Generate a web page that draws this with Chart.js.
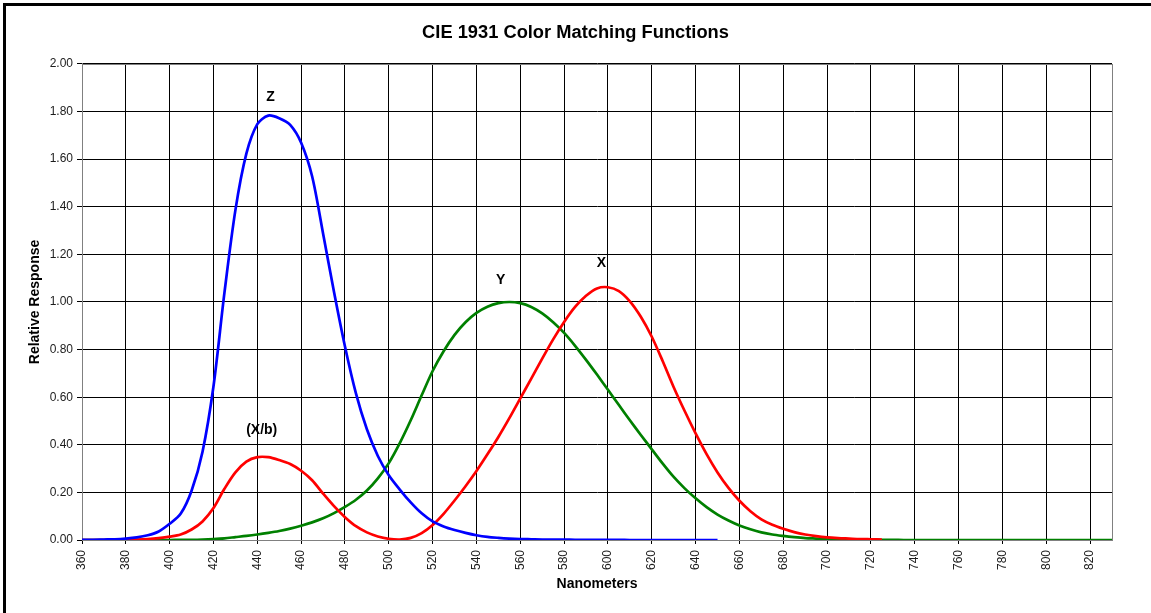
<!DOCTYPE html>
<html>
<head>
<meta charset="utf-8">
<script src="https://cdn.jsdelivr.net/npm/chart.js@4"></script>
<style>
  body { margin: 0; background: #fff; }
  #wrap { position: relative; width: 1151px; height: 613px; }
  #frame { position: absolute; left: 3px; top: 3px; width: 1200px; height: 700px;
           border-top: 3px solid #000; border-left: 3px solid #000; pointer-events: none; }
</style>
</head>
<body>
<div id="wrap">
  <canvas id="cmf" width="1151" height="613"></canvas>
  <div id="frame"></div>
</div>
<script>
// wavelengths in nm, 5 nm steps
const wavelengths = [
  360, 365, 370, 375, 380, 385, 390, 395, 400, 405, 410, 415, 420, 425, 430, 435,
  440, 445, 450, 455, 460, 465, 470, 475, 480, 485, 490, 495, 500, 505, 510, 515,
  520, 525, 530, 535, 540, 545, 550, 555, 560, 565, 570, 575, 580, 585, 590, 595,
  600, 605, 610, 615, 620, 625, 630, 635, 640, 645, 650, 655, 660, 665, 670, 675,
  680, 685, 690, 695, 700, 705, 710, 715, 720, 725, 730, 735, 740, 745, 750, 755,
  760, 765, 770, 775, 780, 785, 790, 795, 800, 805, 810, 815, 820, 825, 830
];

// X curve (red), 360..725
const xValues = [
  0.000, 0.000, 0.000, 0.001, 0.001, 0.002, 0.004, 0.008, 0.014, 0.023, 0.044, 0.078,
  0.134, 0.215, 0.284, 0.329, 0.348, 0.348, 0.336, 0.319, 0.291, 0.251, 0.195, 0.142,
  0.096, 0.058, 0.032, 0.015, 0.005, 0.002, 0.009, 0.029, 0.063, 0.110, 0.166, 0.226,
  0.290, 0.360, 0.433, 0.512, 0.595, 0.678, 0.762, 0.843, 0.916, 0.979, 1.026, 1.057,
  1.062, 1.046, 1.003, 0.938, 0.854, 0.751, 0.642, 0.542, 0.448, 0.361, 0.284, 0.219,
  0.165, 0.121, 0.087, 0.064, 0.047, 0.033, 0.023, 0.016, 0.011, 0.008, 0.006, 0.004,
  0.003, 0.002
];

// Y curve (green), 360..830
const yValues = [
  0.000, 0.000, 0.000, 0.000, 0.000, 0.000, 0.000, 0.000, 0.000, 0.001, 0.001, 0.002,
  0.004, 0.007, 0.012, 0.017, 0.023, 0.030, 0.038, 0.048, 0.060, 0.074, 0.091, 0.113,
  0.139, 0.169, 0.208, 0.259, 0.323, 0.407, 0.503, 0.608, 0.710, 0.793, 0.862, 0.915,
  0.954, 0.980, 0.995, 1.000, 0.995, 0.979, 0.952, 0.915, 0.870, 0.816, 0.757, 0.695,
  0.631, 0.567, 0.503, 0.441, 0.381, 0.321, 0.265, 0.217, 0.175, 0.138, 0.107, 0.082,
  0.061, 0.045, 0.032, 0.023, 0.017, 0.012, 0.008, 0.006, 0.004, 0.003, 0.002, 0.001,
  0.001, 0.001, 0.001, 0.000, 0.000, 0.000, 0.000, 0.000, 0.000, 0.000, 0.000, 0.000,
  0.000, 0.000, 0.000, 0.000, 0.000, 0.000, 0.000, 0.000, 0.000, 0.000, 0.000
];

// Z curve (blue), 360..650
const zValues = [
  0.001, 0.001, 0.002, 0.003, 0.006, 0.011, 0.020, 0.036, 0.068, 0.110, 0.207, 0.371,
  0.646, 1.039, 1.386, 1.623, 1.747, 1.783, 1.772, 1.744, 1.669, 1.528, 1.288, 1.042,
  0.813, 0.616, 0.465, 0.353, 0.272, 0.212, 0.158, 0.112, 0.078, 0.057, 0.042, 0.030,
  0.020, 0.013, 0.009, 0.006, 0.004, 0.003, 0.002, 0.002, 0.002, 0.001, 0.001, 0.001,
  0.001, 0.001, 0.000, 0.000, 0.000, 0.000, 0.000, 0.000, 0.000, 0.000, 0.000
];

// curve labels, placed in data coordinates
const labelTexts = ['Z', '(X/b)', 'Y', 'X'];
const labelNm = [446, 442, 551, 597];
const labelVal = [1.86, 0.46, 1.09, 1.165];

function toPoints(values) {
  return values.map((v, i) => ({ x: wavelengths[i], y: v }));
}

const FONT = "'Liberation Sans', Arial, sans-serif";

const curveLabels = {
  id: 'curveLabels',
  afterDatasetsDraw(chart) {
    const ctx = chart.ctx;
    const xs = chart.scales.x, ys = chart.scales.y;
    ctx.save();
    ctx.font = 'bold 14px ' + FONT;
    ctx.fillStyle = '#000';
    ctx.textAlign = 'center';
    ctx.textBaseline = 'middle';
    labelTexts.forEach((t, i) => {
      ctx.fillText(t, xs.getPixelForValue(labelNm[i]), ys.getPixelForValue(labelVal[i]));
    });
    ctx.restore();
  }
};

const plotFrame = {
  id: 'plotFrame',
  beforeDatasetsDraw(chart) {
    const a = chart.chartArea, ctx = chart.ctx;
    ctx.save();
    ctx.strokeStyle = '#808080';
    ctx.lineWidth = 1;
    ctx.strokeRect(Math.round(a.left) + 0.5, Math.round(a.top) + 0.5,
                   Math.round(a.right - a.left), Math.round(a.bottom - a.top));
    ctx.restore();
  }
};

const lineStyle = { borderWidth: 2.7, pointRadius: 0, tension: 0.3, fill: false };

new Chart(document.getElementById('cmf'), {
  type: 'line',
  data: {
    datasets: [
      Object.assign({ label: 'Z', data: toPoints(zValues), borderColor: '#0000ff' }, lineStyle),
      Object.assign({ label: 'X', data: toPoints(xValues), borderColor: '#ff0000' }, lineStyle),
      Object.assign({ label: 'Y', data: toPoints(yValues), borderColor: '#008000' }, lineStyle)
    ]
  },
  options: {
    responsive: false,
    animation: false,
    devicePixelRatio: 1,
    layout: { padding: { left: 0, right: 0, top: 0, bottom: 0 } },
    plugins: {
      legend: { display: false },
      tooltip: { enabled: false },
      title: {
        display: true,
        text: 'CIE 1931 Color Matching Functions',
        color: '#000',
        font: { family: FONT, size: 18.3, weight: 'bold' },
        padding: { top: 22, bottom: 20 }
      }
    },
    scales: {
      x: {
        type: 'linear',
        min: 360,
        max: 830,
        afterBuildTicks(scale) {
          scale.ticks = scale.ticks.filter(t => t.value <= 820);
        },
        afterFit(scale) { scale.height = 73; },
        ticks: {
          stepSize: 20,
          minRotation: 90,
          maxRotation: 90,
          padding: 6,
          color: '#1c1c1c',
          font: { family: FONT, size: 12 }
        },
        grid: { color: '#000', lineWidth: 1, tickLength: 4 },
        border: { color: '#808080' },
        title: {
          display: true,
          text: 'Nanometers',
          color: '#000',
          font: { family: FONT, size: 14, weight: 'bold' },
          padding: { top: 0, bottom: 20 }
        }
      },
      y: {
        min: 0,
        max: 2,
        afterFit(scale) { scale.width = 82; },
        ticks: {
          stepSize: 0.2,
          padding: 4,
          color: '#1c1c1c',
          font: { family: FONT, size: 12 },
          callback: v => v.toFixed(2)
        },
        grid: { color: '#000', lineWidth: 1, tickLength: 5 },
        border: { color: '#808080' },
        title: {
          display: true,
          text: 'Relative Response',
          color: '#000',
          font: { family: FONT, size: 14, weight: 'bold' },
          padding: { top: 27, bottom: 0 }
        }
      },
      // empty right-hand box so the plot ends at 830 nm while the title stays centred on the page
      yRight: {
        position: 'right',
        display: true,
        min: 0,
        max: 2,
        afterFit(scale) { scale.width = 39; },
        ticks: { display: false },
        grid: { display: false, drawTicks: false },
        border: { display: false }
      }
    }
  },
  plugins: [plotFrame, curveLabels]
});
</script>
</body>
</html>
